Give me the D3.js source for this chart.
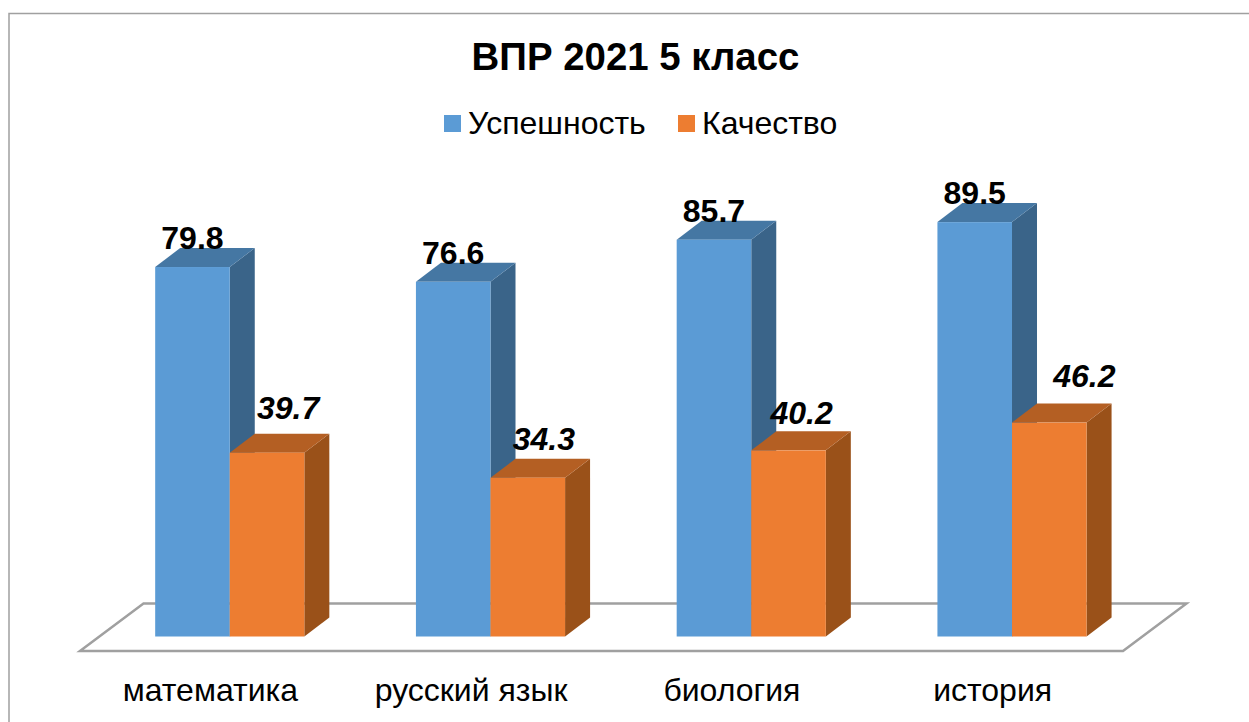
<!DOCTYPE html>
<html lang="ru">
<head>
	<meta charset="UTF-8">
	<title>ВПР 2021 5 класс</title>
	<script src="https://d3js.org/d3.v7.min.js"></script>
	<style>
		html,body{
			margin:0;
			height:100%;
			background:#fff;
			overflow:hidden;
		}
		svg{
			display:block;
			font-family:"Liberation Sans",Arial,sans-serif;
		}
	</style>
</head>
<body>
	<svg id="svg" width="1249" height="722"></svg>
	<script>
		var categories = ["математика","русский язык","биология","история"];
		var seriesNames = ["Успешность","Качество"];
		var success = [79.8,76.6,85.7,89.5];
		var quality = [39.7,34.3,40.2,46.2];
		// labels were dragged by hand in the original, so they don't sit on the bars evenly
		var qualityNudge = [[21,-34],[16,-28],[13,-26],[35,-36]];

		var colors = [
			{front:"#5b9bd5",top:"#4577a3",side:"#3a6489"},
			{front:"#ed7d31",top:"#b45f23",side:"#9a5119"}
		];

		var svg = d3.select("#svg");

		// oblique projection of the floor
		var depthX = 25, depthY = -19;
		var baseY = 636.5;
		var floorFront = 651, floorBack = 603.5;
		var floorLeft = 80, floorRight = 1123, floorSkew = 63.5;

		var xFloor = d3.scaleBand().domain(categories).range([floorLeft,floorRight]);
		var shift = (floorFront-baseY)/(floorFront-floorBack)*floorSkew;
		var x0 = d3.scaleBand().domain(categories)
			.range([floorLeft+shift,floorRight+shift])
			.paddingInner(0.428)
			.paddingOuter(0.214);
		var x1 = d3.scaleBand().domain(seriesNames).range([0,x0.bandwidth()]);
		var y = d3.scaleLinear().domain([0,100]).range([baseY,baseY-463]);

		// frame, only top and left are visible in the crop
		svg.append("path")
			.attr("d","M9,722V13.5H1249")
			.attr("fill","none")
			.attr("stroke","#a0a0a0")
			.attr("stroke-width",1.5);

		svg.append("text")
			.attr("x",635.5).attr("y",70)
			.attr("text-anchor","middle")
			.attr("font-size",38.4)
			.attr("font-weight","bold")
			.text("ВПР 2021 5 класс");

		// legend
		var legendX = [444,678];
		var legend = svg.append("g").selectAll("g")
			.data(seriesNames)
			.enter().append("g")
			.attr("transform",(d,i)=>"translate("+legendX[i]+",115)");
		legend.append("rect")
			.attr("width",17).attr("height",17)
			.attr("fill",(d,i)=>colors[i].front);
		legend.append("text")
			.attr("x",24).attr("y",19)
			.attr("font-size",32)
			.text(d=>d);

		// floor
		svg.append("path")
			.attr("d","M"+floorLeft+","+floorFront
				+"L"+(floorLeft+floorSkew)+","+floorBack
				+"L"+(floorRight+floorSkew)+","+floorBack
				+"L"+floorRight+","+floorFront+"Z")
			.attr("fill","none")
			.attr("stroke","#a0a0a0")
			.attr("stroke-width",2.5);

		// bars
		var rows = categories.map((c,i)=>({cat:c,i:i,values:[success[i],quality[i]]}));
		var group = svg.append("g").selectAll("g")
			.data(rows)
			.enter().append("g")
			.attr("transform",d=>"translate("+x0(d.cat)+",0)");

		var bar = group.selectAll("g")
			.data(d=>d.values.map((v,s)=>({v:v,s:s})))
			.enter().append("g");

		var bw = x1.bandwidth();
		bar.append("path")
			.attr("d",d=>{
				var l = x1(seriesNames[d.s]), t = y(d.v);
				return "M"+(l+bw)+","+baseY+"V"+t+"l"+depthX+","+depthY+"V"+(baseY+depthY)+"Z";
			})
			.attr("fill",d=>colors[d.s].side);
		bar.append("path")
			.attr("d",d=>{
				var l = x1(seriesNames[d.s]), t = y(d.v);
				return "M"+l+","+t+"h"+bw+"l"+depthX+","+depthY+"h"+(-bw)+"Z";
			})
			.attr("fill",d=>colors[d.s].top);
		bar.append("rect")
			.attr("x",d=>x1(seriesNames[d.s]))
			.attr("y",d=>y(d.v))
			.attr("width",bw)
			.attr("height",d=>baseY-y(d.v))
			.attr("fill",d=>colors[d.s].front);

		// value labels
		bar.append("text")
			.attr("x",(d,i,n)=>{
				var c = d3.select(n[i].parentNode.parentNode).datum().i;
				var mid = x1(seriesNames[d.s])+bw/2;
				return d.s==0 ? mid : mid+qualityNudge[c][0];
			})
			.attr("y",(d,i,n)=>{
				var c = d3.select(n[i].parentNode.parentNode).datum().i;
				return y(d.v)+(d.s==0 ? -18 : qualityNudge[c][1]);
			})
			.attr("text-anchor","middle")
			.attr("font-size",32)
			.attr("font-weight","bold")
			.attr("font-style",d=>d.s==1 ? "italic" : "normal")
			.text(d=>d.v.toFixed(1));

		// category axis sits on the front edge of the floor
		var axis = svg.append("g")
			.attr("transform","translate(0,"+floorFront+")")
			.call(d3.axisBottom(xFloor).tickSize(0).tickPadding(27));
		axis.select(".domain").remove();
		axis.selectAll("text")
			.attr("font-family","\"Liberation Sans\",Arial,sans-serif")
			.attr("font-size",32)
			.attr("fill","#000");
	</script>
</body>
</html>
